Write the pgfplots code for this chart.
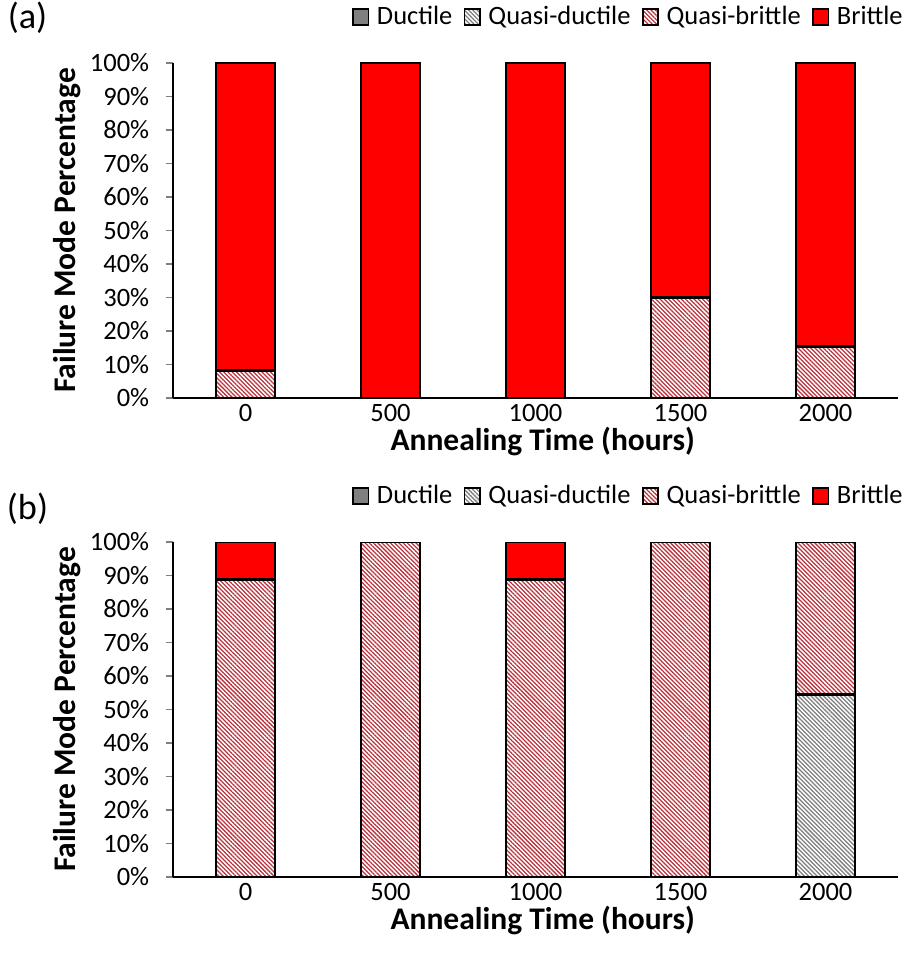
\documentclass[border=0pt]{standalone}
\usepackage{fontspec}
\setmainfont{Carlito}
\usepackage{pgfplots}
\pgfplotsset{compat=1.18}
\usetikzlibrary{patterns.meta}
\definecolor{qbred}{RGB}{185,50,60}
\definecolor{qdgray}{RGB}{125,125,125}
\definecolor{dgray}{RGB}{128,128,128}
\definecolor{bred}{RGB}{255,0,0}
\pgfplotsset{
  fmstyle/.style={
    scale only axis, width=290pt, height=134pt,
    ybar stacked, bar width=23.6pt,
    xmin=-0.5, xmax=4.5, ymin=0, ymax=100,
    xtick=data, xticklabels={0,500,1000,1500,2000},
    major x tick style={draw=none},
    ytick={0,10,...,100},
    yticklabel={\pgfmathprintnumber{\tick}\%},
    /pgf/number format/assume math mode=true,
    tick label style={font=\fontsize{10.6}{12}\selectfont},
    xticklabel style={yshift=4pt},
    yticklabel style={xshift=-3pt},
    axis lines*=left,
    axis line style={line width=0.8pt},
    tick align=outside, major tick length=3pt,
    ytick style={line width=0.6pt},
    xlabel={\textbf{Annealing Time (hours)}},
    ylabel={\textbf{Failure Mode Percentage}},
    label style={font=\fontsize{12.6}{14}\selectfont},
    xlabel style={at={(axis description cs:0.51,-0.13)}, anchor=center},
    ylabel style={at={(axis description cs:-0.146,0.5)}, anchor=center},
    every axis plot/.append style={draw=black, line width=1.1pt},
    legend columns=4,
    legend style={draw=none, fill=none, at={(axis description cs:1.014,1.137)}, anchor=east,
      font=\fontsize{10.6}{12}\selectfont, column sep=1pt, inner sep=0pt,
      /tikz/every even column/.append style={column sep=2.5pt}},
    legend image code/.code={\draw[#1, line width=0.7pt] (0pt,-3.2pt) rectangle (6.2pt,3.2pt);},
  },
  dstyle/.style={fill=dgray},
  qdstyle/.style={fill=white, postaction={pattern={Lines[angle=-45,distance=1.2pt,line width=0.5pt]}, pattern color=qdgray}},
  qbstyle/.style={fill=white, postaction={pattern={Lines[angle=-45,distance=1.2pt,line width=0.5pt]}, pattern color=qbred}},
  bstyle/.style={fill=bred},
}
\begin{document}
\begin{tikzpicture}
\path[use as bounding box] (0,0) rectangle (364pt,-386.8pt);
\node[font=\fontsize{14.5}{16}\selectfont] at (11pt,-7pt) {(a)};
\node[font=\fontsize{14.5}{16}\selectfont] at (11pt,-203.5pt) {(b)};
\begin{axis}[fmstyle, at={(69.2pt,-159.2pt)}, anchor=south west]
\addplot[dstyle] coordinates {(0,0) (1,0) (2,0) (3,0) (4,0)};
\addplot[qdstyle] coordinates {(0,0) (1,0) (2,0) (3,0) (4,0)};
\addplot[qbstyle] coordinates {(0,8.3) (1,0) (2,0) (3,30) (4,15.4)};
\addplot[bstyle] coordinates {(0,91.7) (1,100) (2,100) (3,70) (4,84.6)};
\legend{Ductile,Quasi-ductile,Quasi-brittle,Brittle}
\end{axis}
\begin{axis}[fmstyle, at={(69.2pt,-350.8pt)}, anchor=south west]
\addplot[dstyle] coordinates {(0,0) (1,0) (2,0) (3,0) (4,0)};
\addplot[qdstyle] coordinates {(0,0) (1,0) (2,0) (3,0) (4,54.5)};
\addplot[qbstyle] coordinates {(0,88.9) (1,100) (2,88.9) (3,100) (4,45.5)};
\addplot[bstyle] coordinates {(0,11.1) (1,0) (2,11.1) (3,0) (4,0)};
\legend{Ductile,Quasi-ductile,Quasi-brittle,Brittle}
\end{axis}
\end{tikzpicture}
\end{document}
